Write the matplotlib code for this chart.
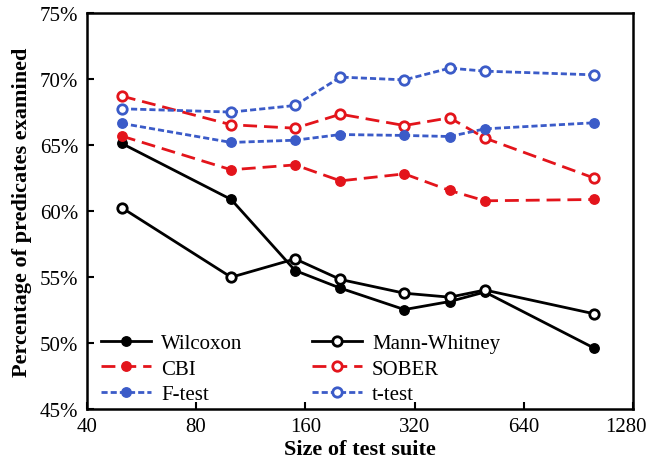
import numpy as np
import matplotlib
matplotlib.use("Agg")
import matplotlib.pyplot as plt
import matplotlib.transforms as mtransforms
from matplotlib.ticker import FixedLocator, FixedFormatter, NullLocator

plt.rcParams['font.family'] = ['Liberation Serif', 'DejaVu Serif']

# test suite sizes
sizes = [50, 100, 150, 200, 300, 400, 500, 1000]

# percentage of predicates examined
wilcoxon = [65.10, 60.86, 55.48, 54.14, 52.52, 53.13, 53.85, 49.60]
mann_whitney = [60.23, 54.97, 56.36, 54.80, 53.76, 53.46, 54.00, 52.20]
cbi = [65.66, 63.11, 63.48, 62.27, 62.80, 61.54, 60.76, 60.86]
sober = [68.69, 66.52, 66.26, 67.32, 66.46, 67.05, 65.51, 62.48]
f_test = [66.62, 65.18, 65.35, 65.78, 65.71, 65.63, 66.21, 66.67]
t_test = [67.73, 67.48, 67.98, 70.13, 69.92, 70.81, 70.58, 70.30]

x_ticks = [40, 80, 160, 320, 640, 1280]
y_ticks = [45, 50, 55, 60, 65, 70, 75]

red = '#E3141B'
blue = '#3B5BC8'

fig = plt.figure(figsize=(6.52, 4.6), dpi=100)
ax = fig.add_axes([0.133, 0.109, 0.838, 0.861])

ms = 6.8
h_w, = ax.plot(sizes, wilcoxon, color='black', lw=2, marker='o', ms=ms, label='Wilcoxon')
h_mw, = ax.plot(sizes, mann_whitney, color='black', lw=2, marker='o', ms=ms,
                mfc='white', mew=2, label='Mann-Whitney')
h_c, = ax.plot(sizes, cbi, color=red, lw=2, marker='o', ms=ms, dashes=(5, 2.5), label='CBI')
h_s, = ax.plot(sizes, sober, color=red, lw=2, marker='o', ms=ms, mfc='white', mew=2,
               dashes=(5, 2.5), label='SOBER')
h_f, = ax.plot(sizes, f_test, color=blue, lw=2, marker='o', ms=ms, dashes=(2.2, 1.1),
               label='F-test')
h_t, = ax.plot(sizes, t_test, color=blue, lw=2, marker='o', ms=ms, mfc='white', mew=2,
               dashes=(2.2, 1.1), label='t-test')

ax.set_xscale('log', base=2)
ax.set_xlim(40, 1280)
ax.set_ylim(45, 75)
ax.xaxis.set_major_locator(FixedLocator(x_ticks))
ax.xaxis.set_major_formatter(FixedFormatter([str(v) for v in x_ticks]))
ax.xaxis.set_minor_locator(NullLocator())
ax.set_yticks(y_ticks)
ax.set_yticklabels([f'{v}%' for v in y_ticks])
ax.tick_params(direction='in', length=5, width=1.5, labelsize=15, pad=6)

# pull the last x label a bit inwards so it stays on the canvas
last = ax.get_xticklabels()[-1]
last.set_transform(last.get_transform() +
                   mtransforms.ScaledTranslation(-7 / 100, 0, fig.dpi_scale_trans))

for s in ax.spines.values():
    s.set_linewidth(1.8)

ax.set_xlabel('Size of test suite', fontsize=16, fontweight='bold', labelpad=2)
ax.set_ylabel('Percentage of predicates examined', fontsize=16, fontweight='bold', labelpad=6)

# row-wise order: Wilcoxon / Mann-Whitney, CBI / SOBER, F-test / t-test
handles = [h_w, h_c, h_f, h_mw, h_s, h_t]
ax.legend(handles=handles, labels=[h.get_label() for h in handles], ncol=2,
          loc='lower left', bbox_to_anchor=(0.011, -0.01), frameon=False, fontsize=15,
          handlelength=2.4, columnspacing=3.3, labelspacing=0.3, borderaxespad=0,
          handletextpad=0.5)

fig.savefig('out.png', dpi=100)
